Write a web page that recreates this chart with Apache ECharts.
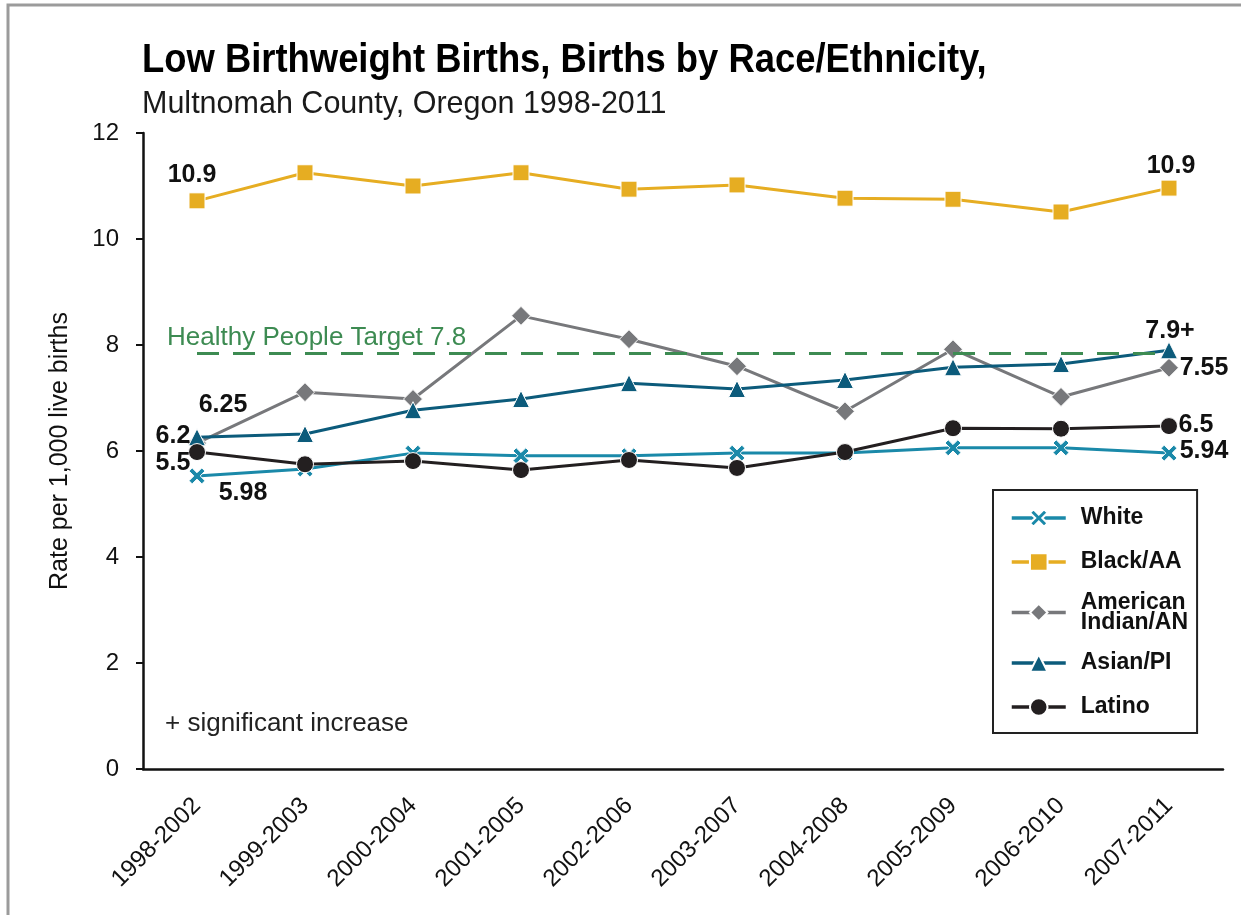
<!DOCTYPE html>
<html>
<head>
<meta charset="utf-8">
<script src="https://cdn.jsdelivr.net/npm/echarts@6/dist/echarts.min.js"></script>
<style>
  html, body { margin: 0; padding: 0; background: #fff; }
  #main { width: 1241px; height: 915px; }
</style>
</head>
<body>
<div id="main"></div>
<script>
// 数据
const periods = ["1998-2002", "1999-2003", "2000-2004", "2001-2005", "2002-2006",
  "2003-2007", "2004-2008", "2005-2009", "2006-2010", "2007-2011"];
const white = [5.53, 5.66, 5.96, 5.91, 5.91, 5.96, 5.96, 6.06, 6.06, 5.96];
const blackAA = [10.72, 11.25, 11.0, 11.25, 10.94, 11.02, 10.77, 10.75, 10.51, 10.96];
const amIndian = [6.15, 7.11, 6.98, 8.55, 8.11, 7.6, 6.75, 7.92, 7.02, 7.57];
const asianPI = [6.26, 6.32, 6.77, 6.98, 7.28, 7.17, 7.34, 7.58, 7.64, 7.9];
const latino = [5.98, 5.75, 5.81, 5.64, 5.83, 5.68, 5.98, 6.43, 6.42, 6.47];
const targetValue = 7.85;
const targetText = "Healthy People Target 7.8";
const yTicks = [0, 2, 4, 6, 8, 10, 12];

// 首尾数据标注文字
const whiteNotes = ["5.5", "5.94"];
const blackNotes = ["10.9", "10.9"];
const amIndianNotes = ["6.2", "7.55"];
const asianNotes = ["6.25", "7.9+"];
const latinoNotes = ["5.98", "6.5"];

const LABEL_FONT = "Liberation Sans";

// 标注相对数据点的偏移（首、尾）
const noteOffsets = {
  White: [[-24, -13], [35, -2]],
  "Black/AA": [[-5, -26], [2, -22]],
  "American Indian/AN": [[-24, -7], [35, 0]],
  "Asian/PI": [[26, -32], [1, -19]],
  Latino: [[46, 41], [27, -1]],
};

function withNotes(name, values, notes) {
  const last = values.length - 1;
  return values.map((v, i) => {
    if (i !== 0 && i !== last) return v;
    const k = i === 0 ? 0 : 1;
    return {
      value: v,
      label: {
        show: true,
        position: "inside",
        formatter: notes[k],
        offset: noteOffsets[name][k],
        color: "#111",
        fontFamily: LABEL_FONT,
        fontWeight: "bold",
        fontSize: 25,
      },
    };
  });
}

const crossPath = "path://M2,0 L5,3 L8,0 L10,2 L7,5 L10,8 L8,10 L5,7 L2,10 L0,8 L3,5 L0,2 Z";

function makeSeries(name, values, notes, color, symbol, size) {
  return {
    name: name,
    type: "line",
    data: withNotes(name, values, notes),
    symbol: symbol,
    symbolSize: size,
    lineStyle: { color: color, width: 3 },
    itemStyle: { color: color, borderColor: "#fff", borderWidth: 1 },
    emphasis: { disabled: true },
  };
}

const series = [
  makeSeries("White", white, whiteNotes, "#1a89a9", crossPath, 16),
  makeSeries("Black/AA", blackAA, blackNotes, "#e6ad22", "rect", 16),
  makeSeries("American Indian/AN", amIndian, amIndianNotes, "#77787b", "diamond", 19),
  makeSeries("Asian/PI", asianPI, asianNotes, "#0c5b7b", "triangle", 17),
  makeSeries("Latino", latino, latinoNotes, "#231f20", "circle", 17),
];

// 目标线
series[0].markLine = {
  silent: true,
  symbol: "none",
  lineStyle: { color: "#3d8b52", width: 3, type: [22, 14] },
  label: {
    show: true,
    position: "insideStartTop",
    formatter: targetText,
    color: "#3d8b52",
    fontFamily: LABEL_FONT,
    fontSize: 26,
    distance: 2,
    offset: [-32, 0],
  },
  data: [[{ coord: [periods[0], targetValue] }, { coord: [periods[periods.length - 1], targetValue] }]],
};

const mychart = echarts.init(document.getElementById("main"));
mychart.setOption({
  animation: false,
  backgroundColor: "#fff",
  graphic: [
    {
      type: "rect",
      shape: { x: 8, y: 5, width: 1400, height: 1000 },
      style: { fill: "none", stroke: "#9b9b9b", lineWidth: 3 },
      silent: true,
    },
    {
      // 标题（窄体效果）
      type: "text",
      x: 142,
      y: 61,
      scaleX: 0.91,
      style: {
        text: "Low Birthweight Births, Births by Race/Ethnicity,",
        fontFamily: LABEL_FONT,
        fontWeight: "bold",
        fontSize: 40,
        fill: "#000",
        verticalAlign: "middle",
      },
      silent: true,
    },
    {
      type: "text",
      x: 142,
      y: 105,
      style: {
        text: "Multnomah County, Oregon 1998-2011",
        fontFamily: LABEL_FONT,
        fontSize: 30.5,
        fill: "#1a1a1a",
        verticalAlign: "middle",
      },
      silent: true,
    },
    {
      type: "text",
      left: 165,
      top: 711,
      style: { text: "+ significant increase", fontFamily: LABEL_FONT, fontSize: 26, fill: "#222" },
      silent: true,
    },
  ],
  legend: {
    orient: "vertical",
    left: 993,
    top: 490,
    padding: [13, 9, 11, 17],
    borderColor: "#222",
    borderWidth: 2,
    itemWidth: 54,
    itemHeight: 22,
    itemGap: 14,
    selectedMode: false,
    lineStyle: { width: 3.5 },
    formatter: (name) => (name === "American Indian/AN" ? "American\nIndian/AN" : name),
    textStyle: {
      fontFamily: LABEL_FONT,
      fontWeight: "bold",
      fontSize: 23,
      color: "#111",
      lineHeight: 30,
      padding: [0, 0, 0, 10],
    },
    data: [
      { name: "White" },
      { name: "Black/AA" },
      { name: "American Indian/AN", textStyle: { lineHeight: 20 } },
      { name: "Asian/PI" },
      { name: "Latino" },
    ],
  },
  grid: { left: 143, right: 18, top: 133, bottom: 146, containLabel: false },
  xAxis: {
    type: "category",
    data: periods,
    boundaryGap: true,
    axisLine: { lineStyle: { color: "#111", width: 2.5 } },
    axisTick: { alignWithLabel: true, length: 7, lineStyle: { color: "#111", width: 2 } },
    axisLabel: { rotate: 45, margin: 33, fontFamily: LABEL_FONT, fontSize: 24, color: "#111" },
  },
  yAxis: {
    type: "value",
    min: yTicks[0],
    max: yTicks[yTicks.length - 1],
    interval: 2,
    name: "Rate per 1,000 live births",
    nameLocation: "middle",
    nameGap: 70,
    nameTextStyle: { fontFamily: LABEL_FONT, fontSize: 25, color: "#111" },
    splitLine: { show: false },
    axisLine: { show: true, lineStyle: { color: "#111", width: 2.5 } },
    axisTick: { show: true, length: 7, lineStyle: { color: "#111", width: 2 } },
    axisLabel: { margin: 24, fontFamily: LABEL_FONT, fontSize: 24, color: "#111" },
  },
  series: series,
});

window.addEventListener("resize", () => {
  mychart.resize();
});
</script>
</body>
</html>
